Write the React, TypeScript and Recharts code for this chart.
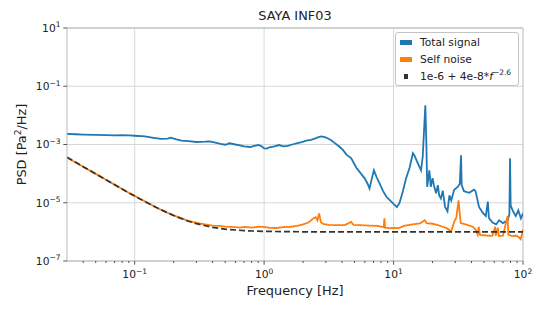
import { LineChart, Line, XAxis, YAxis, CartesianGrid, ReferenceLine } from 'recharts';

// PSD (Hz, Pa^2/Hz)
const totalFreq = [
  0.03, 0.035, 0.04, 0.05, 0.06, 0.07, 0.08, 0.09, 0.1, 0.12, 0.14, 0.16, 0.18, 0.19, 0.21,
  0.23, 0.26, 0.3, 0.35, 0.38, 0.42, 0.46, 0.5, 0.54, 0.6, 0.65, 0.7, 0.78, 0.84, 0.9, 0.95,
  1.0, 1.05, 1.1, 1.2, 1.3, 1.42, 1.52, 1.65, 1.78, 1.95, 2.12, 2.3, 2.46, 2.6, 2.77, 2.95,
  3.12, 3.3, 3.5, 3.8, 4.06, 4.32, 4.7, 5.16, 5.6, 5.98, 6.3, 6.52, 6.75, 7.05, 7.4, 7.8,
  8.3, 8.8, 9.6, 10.6, 11.1, 11.8, 12.5, 13.3, 14.1, 14.5, 15.2, 16.3, 16.8, 17.3, 17.6,
  17.9, 18.2, 18.9, 19.4, 20.0, 20.5, 21.3, 22, 22.5, 23.2, 24, 25.0, 26.1, 27.0, 27.9,
  29.4, 31.3, 32.5, 33.2, 33.6, 35, 38.4, 41.8, 43, 45.7, 49, 51.6, 53.5, 54.5, 58.2, 62,
  65.4, 70, 76.1, 78.5, 79.4, 80.3, 84, 88, 92, 96.3, 100,
];
const totalPsd = [
  2.3e-3, 2.25e-3, 2.2e-3, 2.15e-3, 2.1e-3, 2.05e-3, 2.08e-3, 2.05e-3, 2.0e-3, 1.9e-3, 1.7e-3,
  1.55e-3, 1.6e-3, 1.72e-3, 1.5e-3, 1.35e-3, 1.3e-3, 1.22e-3, 1.25e-3, 1.28e-3, 1.15e-3,
  1.05e-3, 9.8e-4, 1.1e-3, 1.0e-3, 9.4e-4, 8.6e-4, 8.2e-4, 9.0e-4, 9.6e-4, 8.8e-4, 7.4e-4,
  7.2e-4, 8.0e-4, 8.6e-4, 9.6e-4, 8.6e-4, 8.9e-4, 1.0e-3, 1.1e-3, 1.2e-3, 1.35e-3, 1.45e-3,
  1.6e-3, 1.75e-3, 1.9e-3, 1.8e-3, 1.6e-3, 1.4e-3, 1.14e-3, 8.5e-4, 6.5e-4, 4.5e-4, 3.4e-4,
  1.6e-4, 1.0e-4, 6.9e-5, 4.5e-5, 3.1e-5, 6.0e-5, 1.3e-4, 7.5e-5, 4.6e-5, 2.5e-5, 1.6e-5,
  1.1e-5, 7.1e-6, 9.7e-6, 2.5e-5, 6.9e-5, 1.6e-4, 5.0e-4, 4.2e-4, 2.6e-4, 1.3e-4, 3.8e-4,
  5.0e-3, 2.2e-2, 1.4e-3, 3.5e-5, 1.3e-4, 3.5e-5, 7.0e-5, 4.0e-5, 2.1e-5, 4.0e-5, 1.8e-5,
  1.4e-5, 2.6e-5, 7.2e-6, 5.1e-6, 1.8e-5, 1.2e-5, 2.8e-5, 3.5e-5, 4.5e-5, 4.3e-4, 4.0e-5,
  2.5e-5, 2.2e-5, 2.8e-5, 2.5e-5, 7.2e-6, 4.5e-6, 3.5e-6, 1.1e-5, 3.0e-6, 2.1e-6, 1.8e-6,
  2.5e-6, 2.0e-6, 2.5e-6, 4.0e-6, 3.4e-4, 8.0e-6, 5.0e-6, 3.5e-6, 5.5e-6, 2.9e-6, 4.3e-6,
];

const noiseFreq = [
  0.03, 0.04, 0.05, 0.06, 0.07, 0.08, 0.09, 0.1, 0.11, 0.13, 0.15, 0.17, 0.2, 0.23, 0.26,
  0.3, 0.35, 0.4, 0.45, 0.5, 0.6, 0.65, 0.7, 0.8, 0.9, 1.0, 1.1, 1.25, 1.4, 1.6, 1.8, 2.0,
  2.2, 2.4, 2.5, 2.58, 2.66, 2.75, 2.9, 3.2, 3.6, 4.2, 4.7, 4.9, 5.5, 6.5, 7.5, 8.4, 8.5,
  8.6, 9.3, 10, 11, 12, 14, 16, 17.4, 18, 20, 22, 24, 25.5, 27.9, 29.4, 30.5, 31.8, 32.5,
  33, 36, 40.9, 43, 44.7, 45.5, 46.5, 52, 58, 61, 61.6, 64, 65, 70, 76, 77, 82, 88, 93, 96,
  98, 100,
];
const noisePsd = [
  3.6e-4, 1.72e-4, 9.8e-5, 6.2e-5, 4.2e-5, 2.95e-5, 2.2e-5, 1.72e-5, 1.38e-5, 9.2e-6, 6.6e-6,
  5.0e-6, 3.7e-6, 2.9e-6, 2.4e-6, 2.05e-6, 1.8e-6, 1.65e-6, 1.6e-6, 1.52e-6, 1.45e-6, 1.4e-6,
  1.48e-6, 1.4e-6, 1.5e-6, 1.48e-6, 1.38e-6, 1.36e-6, 1.45e-6, 1.5e-6, 1.6e-6, 1.8e-6, 2.1e-6,
  2.9e-6, 3.2e-6, 2.5e-6, 4.3e-6, 2.1e-6, 1.85e-6, 1.75e-6, 1.7e-6, 1.7e-6, 2.2e-6, 1.75e-6,
  1.7e-6, 1.65e-6, 1.6e-6, 1.45e-6, 2.9e-6, 1.4e-6, 1.35e-6, 1.38e-6, 1.35e-6, 1.6e-6, 1.8e-6,
  1.95e-6, 2.5e-6, 2.0e-6, 1.9e-6, 1.7e-6, 1.5e-6, 1.37e-6, 1.05e-6, 2.2e-6, 3.0e-6, 1.2e-5,
  4.0e-6, 2.0e-6, 1.8e-6, 1.5e-6, 1.2e-6, 7.9e-7, 1.5e-6, 7.8e-7, 7.5e-7, 7.3e-7, 1.5e-6,
  7.3e-7, 1.4e-6, 7.2e-7, 7.4e-7, 3.5e-6, 8.0e-7, 7.2e-7, 7.5e-7, 6.5e-7, 5.6e-7, 8.0e-7,
  1.2e-6,
];

const modelFreq = [0.03, 0.04, 0.05, 0.06, 0.07, 0.08, 0.1, 0.12, 0.15, 0.2, 0.25, 0.3, 0.4, 0.5, 0.7, 1, 2, 5, 100];
const modelPsd = [
  3.65e-4, 1.73e-4, 9.75e-5, 6.11e-5, 4.13e-5, 2.94e-5, 1.69e-5, 1.09e-5, 6.55e-6, 3.63e-6,
  2.47e-6, 1.92e-6, 1.43e-6, 1.24e-6, 1.1e-6, 1.04e-6, 1.007e-6, 1.0e-6, 1.0e-6,
];

const xMajor = [0.1, 1, 10, 100];
const xMinor = [
  0.04, 0.05, 0.06, 0.07, 0.08, 0.09, 0.2, 0.3, 0.4, 0.5, 0.6, 0.7, 0.8, 0.9,
  2, 3, 4, 5, 6, 7, 8, 9, 20, 30, 40, 50, 60, 70, 80, 90,
];
const yMajor = [1e1, 1e-1, 1e-3, 1e-5, 1e-7];

const rows = (fs: number[], vs: number[]) => fs.map((f, i) => ({ f, v: vs[i] }));
const totalRows = rows(totalFreq, totalPsd);
const noiseRows = rows(noiseFreq, noisePsd);
const modelRows = rows(modelFreq, modelPsd);

const FONT = 'DejaVu Sans, sans-serif';
const INK = '#222';

const exp = (v: number) => String(Math.round(Math.log10(v))).replace('-', '\u2212');

function XTick({ x, y, payload }: any) {
  const v = payload.value;
  const major = xMajor.includes(v);
  return (
    <g>
      <line x1={x} x2={x} y1={y} y2={y + (major ? 3.7 : 2.1)} stroke="#444" strokeWidth={0.9} />
      {major && (
        <text x={x} y={y + 17} textAnchor="middle" fontSize={10.7} fill={INK} fontFamily={FONT}>
          10<tspan dy={-4.5} fontSize={7.5}>{exp(v)}</tspan>
        </text>
      )}
    </g>
  );
}

function YTick({ x, y, payload }: any) {
  return (
    <g>
      <line x1={x - 3.7} x2={x} y1={y} y2={y} stroke="#444" strokeWidth={0.9} />
      <text x={x - 6.5} y={y + 3.8} textAnchor="end" fontSize={10.7} fill={INK} fontFamily={FONT}>
        10<tspan dy={-4.5} fontSize={7.5}>{exp(payload.value)}</tspan>
      </text>
    </g>
  );
}

const XLabel = () => (
  <text x={295} y={295} textAnchor="middle" fontSize={12.9} fill={INK} fontFamily={FONT}>
    Frequency [Hz]
  </text>
);

const YLabel = () => (
  <text transform="translate(26,144.5) rotate(-90)" textAnchor="middle" fontSize={12.9} fill={INK} fontFamily={FONT}>
    PSD [Pa<tspan dy={-5} fontSize={9}>2</tspan><tspan dy={5}>/Hz]</tspan>
  </text>
);

const legendRow = (top: number): React.CSSProperties => ({
  position: 'absolute', left: 0, top: top - 7, height: 14, lineHeight: '14px',
  display: 'flex', alignItems: 'center', whiteSpace: 'nowrap',
});

export default function App() {
  return (
    <div style={{ position: 'absolute', left: 0, top: 0, width: 545, height: 312, fontFamily: FONT, background: '#fff' }}>
      <div style={{ position: 'absolute', left: 0, width: 590, top: 8, textAlign: 'center', fontSize: 12.9, lineHeight: '15px', color: INK }}>
        SAYA INF03
      </div>
      <LineChart width={545} height={312} margin={{ top: 28, right: 22, left: 0, bottom: 0 }}>
        <CartesianGrid vertical={false} stroke="#d4d4d4" strokeWidth={0.9} />
        {xMajor.slice(0, 3).map((v) => (
          <ReferenceLine key={v} x={v} stroke="#d4d4d4" strokeWidth={0.9} />
        ))}
        <ReferenceLine x={100} stroke="#b0b0b0" strokeWidth={0.9} />
        <ReferenceLine y={10} stroke="#b0b0b0" strokeWidth={0.9} />
        <XAxis
          dataKey="f"
          type="number"
          scale="log"
          domain={[0.03, 100]}
          allowDataOverflow
          ticks={[...xMinor, ...xMajor]}
          tick={<XTick />}
          tickLine={false}
          tickSize={0}
          tickMargin={0}
          interval={0}
          height={51}
          axisLine={{ stroke: '#b0b0b0', strokeWidth: 0.9 }}
          label={<XLabel />}
        />
        <YAxis
          type="number"
          scale="log"
          domain={[1e-7, 10]}
          allowDataOverflow
          ticks={yMajor}
          tick={<YTick />}
          tickLine={false}
          tickSize={0}
          tickMargin={0}
          interval={0}
          width={67}
          axisLine={{ stroke: '#b0b0b0', strokeWidth: 0.9 }}
          label={<YLabel />}
        />
        <Line data={totalRows} dataKey="v" type="linear" stroke="#1f77b4" strokeWidth={1.8} dot={false} isAnimationActive={false} />
        <Line data={noiseRows} dataKey="v" type="linear" stroke="#ff7f0e" strokeWidth={1.8} dot={false} isAnimationActive={false} />
        <Line data={modelRows} dataKey="v" type="linear" stroke="#333" strokeWidth={1.7} strokeDasharray="6 3" dot={false} isAnimationActive={false} />
      </LineChart>
      <div
        style={{
          position: 'absolute', left: 395, top: 32, width: 124, height: 54, boxSizing: 'border-box',
          border: '1px solid #c4c4c4', borderRadius: 3, background: 'rgba(255,255,255,0.85)',
          fontSize: 10.7, color: INK,
        }}
      >
        <div style={legendRow(9.5)}>
          <span style={{ display: 'inline-block', width: 12, height: 5, background: '#1f77b4', marginLeft: 4, marginRight: 8 }} />
          Total signal
        </div>
        <div style={legendRow(26.5)}>
          <span style={{ display: 'inline-block', width: 12, height: 5, background: '#ff7f0e', marginLeft: 4, marginRight: 8 }} />
          Self noise
        </div>
        <div style={legendRow(43.5)}>
          <span style={{ display: 'inline-block', width: 4, height: 5, background: '#333', marginLeft: 8, marginRight: 12 }} />
          1e-6 + 4e-8*<i>f</i>
          <span style={{ fontSize: 7.5, position: 'relative', top: -4 }}>{'\u22122.6'}</span>
        </div>
      </div>
    </div>
  );
}
